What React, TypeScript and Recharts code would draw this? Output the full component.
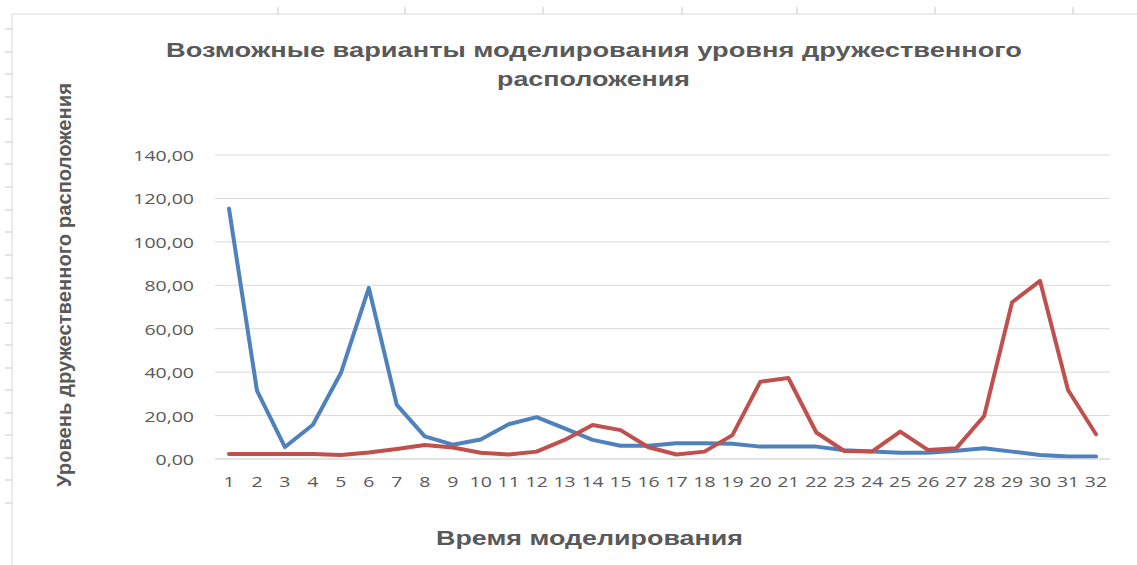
import { LineChart, Line, XAxis, YAxis, CartesianGrid } from "recharts";

// время моделирования (шаги 1..32)
const steps = [
  "1", "2", "3", "4", "5", "6", "7", "8", "9", "10", "11", "12", "13", "14", "15", "16",
  "17", "18", "19", "20", "21", "22", "23", "24", "25", "26", "27", "28", "29", "30", "31", "32"
];

// вариант 1 (синяя линия)
const variant1 = [
  115.3, 31.5, 5.5, 15.8, 39.6, 78.8, 24.9, 10.4, 6.6, 9.0, 16.0, 19.3, 14.1, 8.8, 6.1, 6.1,
  7.2, 7.2, 7.0, 5.7, 5.7, 5.7, 4.0, 3.4, 2.9, 2.9, 3.8, 4.9, 3.4, 1.8, 1.1, 1.1
];

// вариант 2 (красная линия)
const variant2 = [
  2.3, 2.3, 2.3, 2.3, 1.8, 3.0, 4.6, 6.4, 5.3, 2.9, 2.1, 3.4, 8.8, 15.7, 13.3, 5.4,
  2.1, 3.4, 11.0, 35.6, 37.3, 12.2, 3.7, 3.5, 12.6, 4.1, 4.9, 19.8, 72.2, 82.0, 31.8, 11.4
];

const yTicks = [0, 20, 40, 60, 80, 100, 120, 140];

const titleLines = ["Возможные варианты  моделирования уровня дружественного", "расположения"];
const xTitle = "Время моделирования";
const yTitle = "Уровень дружественного  расположения";

const data = steps.map((t, i) => ({ t, v1: variant1[i], v2: variant2[i] }));

const GRID = "#d9d9d9";
const TEXT = "#595959";
const STRETCH = 1.3; // картинка растянута по горизонтали

function YTick({ x, y, payload }: any) {
  return (
    <g transform={`translate(${x},${y}) scale(${STRETCH},1)`}>
      <text x={0} y={6} textAnchor="end" fill={TEXT} fontSize={15} fontFamily="'Open Sans', sans-serif">
        {payload.value.toFixed(2).replace(".", ",")}
      </text>
    </g>
  );
}

function XTick({ x, y, payload }: any) {
  return (
    <g transform={`translate(${x},${y}) scale(${STRETCH},1)`}>
      <text x={0} y={20} textAnchor="middle" fill={TEXT} fontSize={15} fontFamily="'Open Sans', sans-serif">
        {payload.value}
      </text>
    </g>
  );
}

// рамка листа Excel вокруг диаграммы
const topMarks = [278, 405, 543, 682, 797, 935, 1073];
const leftMarks = [29, 52, 74, 97, 119, 142, 164, 187, 210, 232, 255, 278, 300, 323, 345, 368, 390, 413, 435, 458, 480, 503];

export default function App() {
  return (
    <div style={{ position: "absolute", left: 0, top: 0, width: 1137, height: 565, background: "#fff" }}>
      <LineChart width={1137} height={565} data={data} margin={{ top: 155, right: 27, bottom: 76, left: 135 }}>
        <CartesianGrid vertical={false} stroke={GRID} />
        <XAxis
          dataKey="t"
          interval={0}
          padding={{ left: 14, right: 14 }}
          height={30}
          tickLine={false}
          axisLine={{ stroke: GRID }}
          tick={<XTick />}
        />
        <YAxis
          domain={[0, 140]}
          ticks={yTicks}
          width={80}
          tickMargin={15}
          tickLine={false}
          axisLine={false}
          tick={<YTick />}
        />
        <Line
          dataKey="v1"
          name="Вариант 1"
          stroke="#4f81bd"
          strokeWidth={4}
          dot={false}
          strokeLinejoin="round"
          strokeLinecap="round"
          isAnimationActive={false}
        />
        <Line
          dataKey="v2"
          name="Вариант 2"
          stroke="#c0504d"
          strokeWidth={4}
          dot={false}
          strokeLinejoin="round"
          strokeLinecap="round"
          isAnimationActive={false}
        />
      </LineChart>

      <svg
        width={1137}
        height={565}
        style={{ position: "absolute", left: 0, top: 0, pointerEvents: "none" }}
      >
        <line x1={12} y1={14} x2={1137} y2={14} stroke={GRID} />
        <line x1={12} y1={14} x2={12} y2={565} stroke={GRID} />
        {topMarks.map((mx) => (
          <line key={mx} x1={mx} y1={7} x2={mx} y2={14} stroke="#c8c8c8" />
        ))}
        {leftMarks.map((my) => (
          <line key={my} x1={5} y1={my} x2={12} y2={my} stroke="#c8c8c8" />
        ))}

        <g
          fontFamily="'Liberation Sans', Arial, sans-serif"
          fontWeight="bold"
          fill={TEXT}
          fontSize={19.5}
          style={{ whiteSpace: "pre" }}
        >
          <text x={166} y={57} textLength={856} lengthAdjust="spacingAndGlyphs">
            {titleLines[0]}
          </text>
          <text x={497} y={86} textLength={193} lengthAdjust="spacingAndGlyphs">
            {titleLines[1]}
          </text>
          <text x={436} y={545} textLength={307} lengthAdjust="spacingAndGlyphs">
            {xTitle}
          </text>
          <text
            transform="translate(71,487) rotate(-90)"
            x={0}
            y={0}
            textLength={404}
            lengthAdjust="spacingAndGlyphs"
          >
            {yTitle}
          </text>
        </g>
      </svg>
    </div>
  );
}
